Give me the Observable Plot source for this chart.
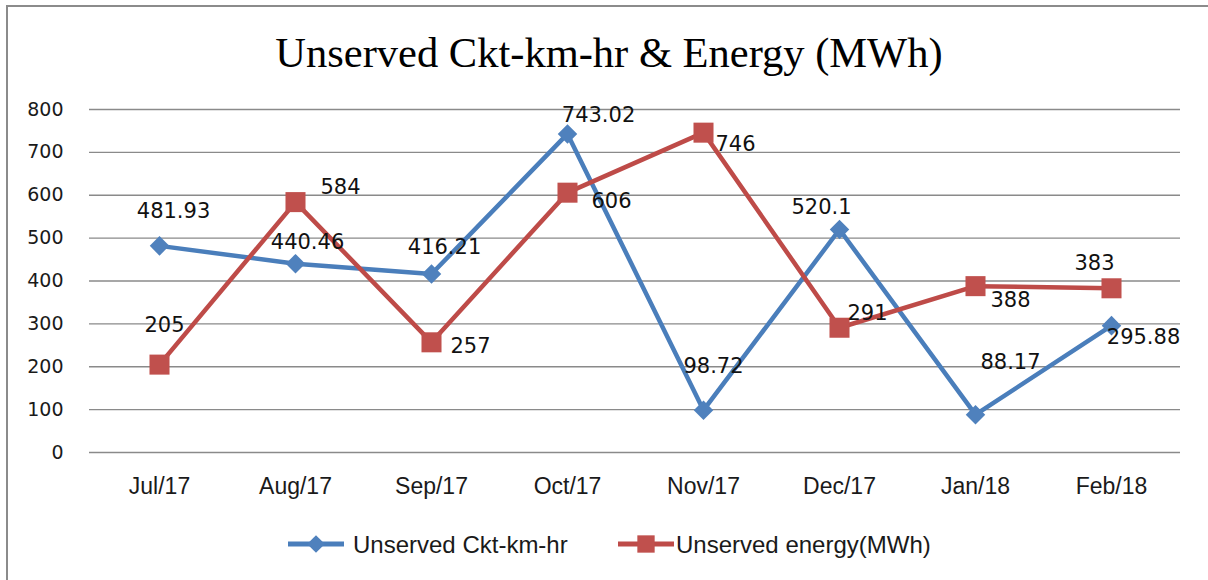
<!DOCTYPE html>
<html>
<head>
<meta charset="utf-8">
<script src="https://cdn.jsdelivr.net/npm/d3@7"></script>
<script src="https://cdn.jsdelivr.net/npm/@observablehq/plot@0.6"></script>
<style>
  html, body { margin: 0; padding: 0; background: #fff; overflow: hidden; }
  #wrap { position: relative; width: 1208px; height: 580px; overflow: hidden; background: #fff; }
  #frame { position: absolute; left: 6px; top: 5px; width: 1400px; height: 800px; border: 2px solid #8b8b8b; box-sizing: border-box; }
  #chart { position: absolute; left: 0; top: 0; }
  #title { position: absolute; left: 0; width: 1218px; top: 32px; text-align: center;
           font-family: "Liberation Serif", "Times New Roman", serif; font-size: 42.5px; line-height: 42px; color: #000; }
  .leg { position: absolute; top: 530px; height: 30px; font-family: "Liberation Sans", Arial, sans-serif; font-size: 24px; line-height: 30px; color: #1a1a1a; white-space: nowrap; }
  .legsym { position: absolute; top: 530px; }
</style>
</head>
<body>
<div id="wrap">
  <div id="frame"></div>
  <div id="chart"></div>
  <div id="title">Unserved Ckt-km-hr &amp; Energy (MWh)</div>
  <div id="legend"></div>
</div>
<script>
// ---- data ----
const months = ["Jul/17", "Aug/17", "Sep/17", "Oct/17", "Nov/17", "Dec/17", "Jan/18", "Feb/18"];
const unservedCkt = [481.93, 440.46, 416.21, 743.02, 98.72, 520.1, 88.17, 295.88];
const unservedEnergy = [205, 584, 257, 606, 746, 291, 388, 383];
const yTicks = [0, 100, 200, 300, 400, 500, 600, 700, 800];
const seriesNames = ["Unserved Ckt-km-hr", "Unserved energy(MWh)"];

// ---- layout (label nudges, px) ----
const cktLabelOffsets = [[14, -35], [12, -21], [13, -27], [31, -19], [10, -44], [-18, -22], [35, -52], [32, 12]];
const energyLabelOffsets = [[5, -39], [45, -15], [39, 4], [44, 9], [32, 12], [28, -14], [35, 14], [-17, -25]];

const blueLine = "#4A7EBB", blueFill = "#4F81BD";
const redLine = "#BE4B48", redFill = "#C0504D";

const cktData = months.map((m, i) => ({month: m, value: unservedCkt[i]}));
const energyData = months.map((m, i) => ({month: m, value: unservedEnergy[i]}));

const labelMarks = (data, offsets) => data.map((d, i) =>
  Plot.text([d], {
    x: "month", y: "value", text: d => String(d.value),
    dx: offsets[i][0], dy: offsets[i][1],
    textAnchor: "middle", lineAnchor: "middle",
    fontFamily: "DejaVu Sans", fontSize: 21, fill: "#111"
  })
);

const chart = Plot.plot({
  width: 1208,
  height: 580,
  marginLeft: 89,
  marginRight: 28,
  marginTop: 109,
  marginBottom: 128,
  style: {background: "transparent", overflow: "visible"},
  x: {type: "point", domain: months, padding: 0.5},
  y: {domain: [0, 800]},
  marks: [
    Plot.gridY(yTicks, {stroke: "#8a8a8a", strokeOpacity: 1, strokeWidth: 1.3}),
    Plot.axisY(yTicks, {tickSize: 0, tickPadding: 26, fontSize: 19, fontFamily: "DejaVu Sans", fill: "#1a1a1a", label: null}),
    Plot.axisX({tickSize: 0, tickPadding: 25, fontSize: 23, fontFamily: "Liberation Sans", fill: "#1a1a1a", label: null}),
    Plot.line(cktData, {x: "month", y: "value", stroke: blueLine, strokeWidth: 4.5}),
    Plot.line(energyData, {x: "month", y: "value", stroke: redLine, strokeWidth: 4.5}),
    Plot.dot(cktData, {x: "month", y: "value", symbol: "diamond2", r: 8.8, fill: blueFill, stroke: "none"}),
    Plot.dot(energyData, {x: "month", y: "value", symbol: "square", r: 11.3, fill: redFill, stroke: "none"}),
    ...labelMarks(cktData, cktLabelOffsets),
    ...labelMarks(energyData, energyLabelOffsets)
  ]
});
document.getElementById("chart").appendChild(chart);

// ---- legend ----
const legend = document.getElementById("legend");
function legendItem(symLeft, textLeft, color, fill, shape, name) {
  const ns = "http://www.w3.org/2000/svg";
  const svg = document.createElementNS(ns, "svg");
  svg.setAttribute("width", 60); svg.setAttribute("height", 30);
  svg.setAttribute("class", "legsym");
  svg.style.left = symLeft + "px";
  const line = document.createElementNS(ns, "line");
  line.setAttribute("x1", 0); line.setAttribute("x2", 56);
  line.setAttribute("y1", 14); line.setAttribute("y2", 14);
  line.setAttribute("stroke", color); line.setAttribute("stroke-width", 5);
  svg.appendChild(line);
  const p = document.createElementNS(ns, "path");
  p.setAttribute("d", d3.symbol(shape === "diamond" ? d3.symbolDiamond2 : d3.symbolSquare, shape === "diamond" ? 200 : 300)());
  p.setAttribute("transform", "translate(28,14)");
  p.setAttribute("fill", fill);
  svg.appendChild(p);
  legend.appendChild(svg);
  const t = document.createElement("div");
  t.className = "leg";
  t.style.left = textLeft + "px";
  t.textContent = name;
  legend.appendChild(t);
}
legendItem(288, 353, blueLine, blueFill, "diamond", seriesNames[0]);
legendItem(618, 676, redLine, redFill, "square", seriesNames[1]);
</script>
</body>
</html>
